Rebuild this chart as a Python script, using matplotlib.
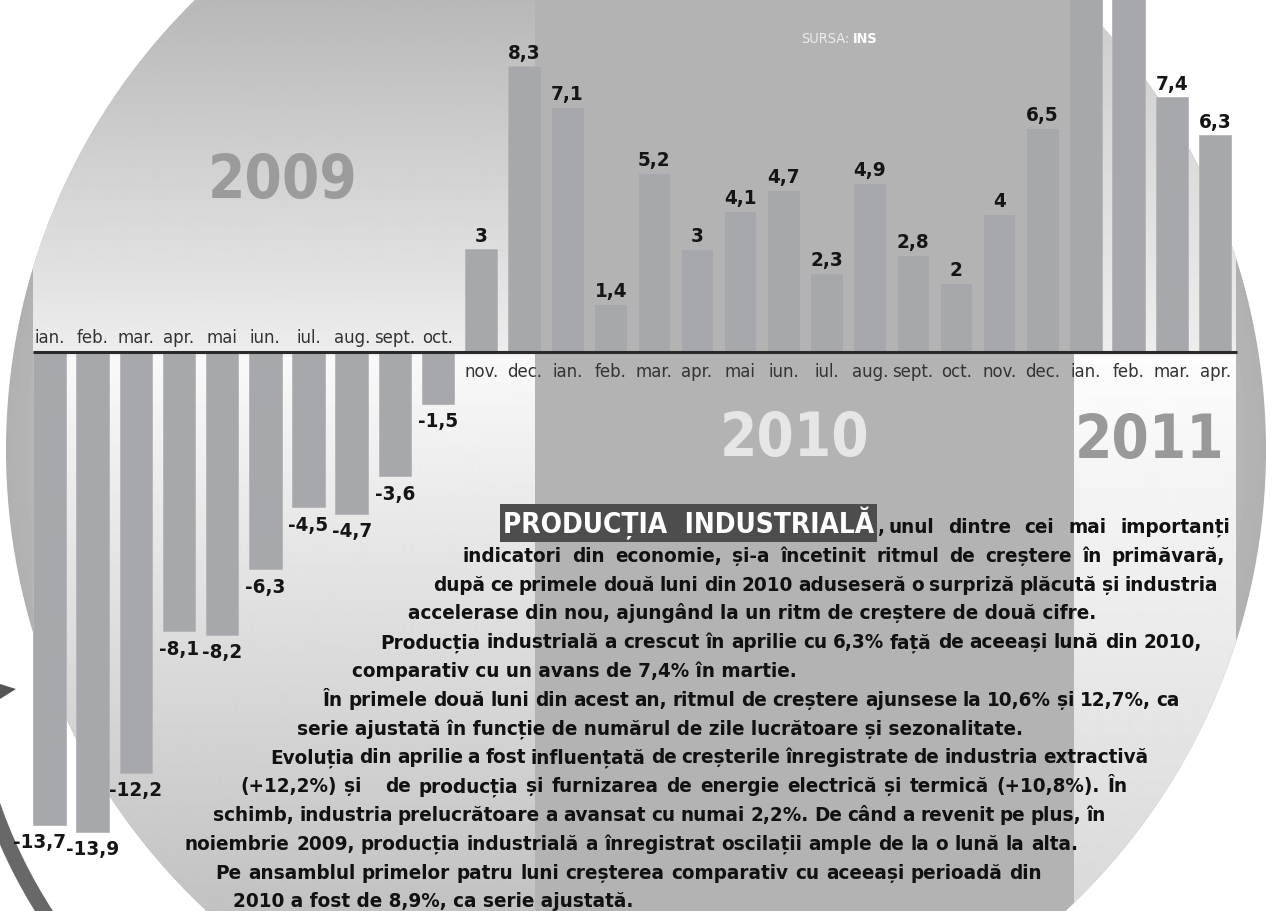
import numpy as np
import matplotlib.pyplot as plt
from matplotlib import font_manager as fm
from matplotlib.patches import Circle, Rectangle, Arc, Polygon

# pick the narrowest sans family that is installed
entries = fm.fontManager.ttflist
if any(f.name == 'Liberation Sans Narrow' for f in entries):
    FONT, STRETCH = ['Liberation Sans Narrow', 'DejaVu Sans'], 'normal'
elif any(f.name == 'DejaVu Sans' and f.stretch == 'condensed' for f in entries):
    FONT, STRETCH = ['DejaVu Sans'], 'condensed'
else:
    FONT, STRETCH = ['Liberation Sans', 'DejaVu Sans'], 'normal'

# monthly change of industrial output (%), ian. 2009 .. apr. 2011
months = ['ian.', 'feb.', 'mar.', 'apr.', 'mai', 'iun.', 'iul.', 'aug.', 'sept.', 'oct.',
          'nov.', 'dec.',
          'ian.', 'feb.', 'mar.', 'apr.', 'mai', 'iun.', 'iul.', 'aug.', 'sept.', 'oct.',
          'nov.', 'dec.',
          'ian.', 'feb.', 'mar.', 'apr.']
values = [-13.7, -13.9, -12.2, -8.1, -8.2, -6.3, -4.5, -4.7, -3.6, -1.5,
          3, 8.3,
          7.1, 1.4, 5.2, 3, 4.1, 4.7, 2.3, 4.9, 2.8, 2, 4, 6.5,
          10.6, 12.7, 7.4, 6.3]
years = ['2009', '2010', '2011']

body = [
    "indicatori din economie, și-a încetinit ritmul de creștere în primăvară,",
    "după ce primele două luni din 2010 aduseseră o surpriză plăcută și industria",
    "accelerase din nou, ajungând la un ritm de creștere de două cifre.",
    "Producția industrială a crescut în aprilie cu 6,3% față de aceeași lună din 2010,",
    "comparativ cu un avans de 7,4% în martie.",
    "În primele două luni din acest an, ritmul de creștere ajunsese la 10,6% și 12,7%, ca",
    "serie ajustată în funcție de numărul de zile lucrătoare și sezonalitate.",
    "Evoluția din aprilie a fost influențată de creșterile înregistrate de industria extractivă",
    "(+12,2%) și   de producția și furnizarea de energie electrică și termică (+10,8%). În",
    "schimb, industria prelucrătoare a avansat cu numai 2,2%. De când a revenit pe plus, în",
    "noiembrie 2009, producția industrială a înregistrat oscilații ample de la o lună la alta.",
    "Pe ansamblul primelor patru luni creșterea comparativ cu aceeași perioadă din",
    "2010 a fost de 8,9%, ca serie ajustată.",
]
body_left = [463, 433, 408, 380, 352, 323, 297, 270, 240, 213, 185, 215, 233]
body_right = [1225, 1218, None, 1202, None, 1180, None, 1148, 1128, 1106, 1078, 1042, None]

W, H = 1272, 911
fig = plt.figure(figsize=(W / 100, H / 100), dpi=100)

# ---- background shapes (pixel coordinates) ----
bg = fig.add_axes([0, 0, 1, 1])
bg.set_xlim(0, W)
bg.set_ylim(H, 0)
bg.axis('off')

cx, cy, rad = 636, 450, 630
circle = Circle((cx, cy), rad, fc='none', ec='none')
bg.add_patch(circle)

yy, xx = np.mgrid[0:H, 0:W] + 0.5
d = np.hypot(xx - cx, yy - cy) / rad
im = bg.imshow(0.96 - 0.27 * d ** 2, cmap='gray', vmin=0, vmax=1,
               extent=(0, W, H, 0), zorder=1)
im.set_clip_path(circle)


def vgrad(x0, x1, ys, vs):
    rows = np.arange(0, H) + 0.5
    v = np.interp(rows, ys, vs)
    img = bg.imshow(np.repeat(v[:, None], 2, axis=1), cmap='gray', vmin=0, vmax=1,
                    extent=(x0, x1, H, 0), aspect='auto', zorder=2,
                    interpolation='bilinear')
    img.set_clip_path(circle)


vgrad(33, 535, [0, 352, 358, 600, 911], [0.72, 0.93, 0.975, 0.88, 0.76])
vgrad(1074, 1236, [0, 352, 358, 911], [0.80, 0.93, 0.99, 0.85])
mid = Rectangle((535, 0), 539, H, fc='#b3b3b3', ec='none', zorder=2)
bg.add_patch(mid)
mid.set_clip_path(circle)

bg.add_patch(Arc((470, 640), 1010, 1010, theta1=115, theta2=175, color='#686868',
                 lw=11, zorder=3))
bg.add_patch(Polygon([[0, 684], [16, 689], [0, 699]], fc='#555555', ec='none', zorder=3))

# ---- bar chart ----
step, x0px, y0px, scale = 43.17, 49.5, 352, 34.5
ax = fig.add_axes([0, 0, 1, 1])
ax.patch.set_alpha(0)
ax.set_xlim(-x0px / step, (W - x0px) / step)
ax.set_ylim((y0px - H) / scale, y0px / scale)
ax.axis('off')

r = fig.canvas.get_renderer()
T = bg.transData


def width(t):
    return t.get_window_extent(renderer=r).width


def fit(s, target, weight='normal', base=20):
    p = ax.text(0, 0, s, transform=T, fontsize=base, weight=weight, family=FONT,
                fontstretch=STRETCH)
    w = width(p)
    p.remove()
    return base * target / w


fs_month = fit('sept.', 41)
fs_val = fit('-13,9', 53, 'bold')
fs_year = fit('2009', 150, 'bold')

idx = np.arange(len(values))
ax.bar(idx, values, width=0.753, color='#a7a8ac', edgecolor='#b4b5b8', linewidth=0.6,
       zorder=2)
ax.hlines(0, -0.38, len(values) - 0.5, color='#2a2a2a', lw=2.2, zorder=3)

lab_kw = dict(textcoords='offset points', ha='center', family=FONT, fontstretch=STRETCH)
top = ax.get_ylim()[1]
for i, (m, v) in enumerate(zip(months, values)):
    lab = ('%g' % v).replace('.', ',')
    if v > 0:
        if v < top - 0.8:
            ax.annotate(lab, (i, v), xytext=(0, 5), va='baseline', fontsize=fs_val,
                        weight='bold', color='#151515', **lab_kw)
        ax.annotate(m, (i, 0), xytext=(0, -18), va='baseline', fontsize=fs_month,
                    color='#333333', **lab_kw)
    else:
        # the first label is nudged left so it does not run into its neighbour
        dx = -7 if i == 0 else 0
        ax.annotate(lab, (i, v), xytext=(dx, -6), va='top', fontsize=fs_val,
                    weight='bold', color='#151515', **lab_kw)
        ax.annotate(m, (i, 0), xytext=(0, 6.5), va='baseline', fontsize=fs_month,
                    color='#333333', **lab_kw)

# year labels
yr_kw = dict(transform=T, ha='center', va='baseline', fontsize=fs_year, weight='bold',
             family=FONT, fontstretch=STRETCH)
ax.text(283, 198, years[0], color='#9b9b9b', **yr_kw)
ax.text(795, 456, years[1], color='#e6e6e6', **yr_kw)
ax.text(1150, 458, years[2], color='#999999', **yr_kw)

fs_src = fit('SURSA:', 48)
ax.text(849, 43, 'SURSA:', transform=T, ha='right', va='baseline', fontsize=fs_src,
        color='#ececec', family=FONT, fontstretch=STRETCH)
ax.text(853, 43, 'INS', transform=T, ha='left', va='baseline', fontsize=fs_src,
        weight='bold', color='white', family=FONT, fontstretch=STRETCH)

# ---- article text ----
fs = fit(body[2], 688, 'bold')
txt = dict(transform=T, fontsize=fs, weight='bold', color='#111111', family=FONT,
           fontstretch=STRETCH, va='baseline', ha='left', zorder=5)


def justify(line, xl, xr, y):
    words = line.split(' ')
    ts = [ax.text(xl, y, w, **txt) for w in words]
    ws = [width(t) if w else 0 for t, w in zip(ts, words)]
    gap = (xr - xl - sum(ws)) / (len(words) - 1)
    x = xl
    for t, w in zip(ts, ws):
        t.set_x(x)
        x += w + gap


bases = 533 + 28.8 * np.arange(len(body) + 1)

fs_h = fit('PRODUCȚIA  INDUSTRIALĂ', 372, 'bold')
head = ax.text(503, bases[0], 'PRODUCȚIA  INDUSTRIALĂ', transform=T, fontsize=fs_h,
               weight='bold', color='white', family=FONT, fontstretch=STRETCH,
               va='baseline', zorder=5,
               bbox=dict(boxstyle='square,pad=0.1', fc='#4d4d4d', ec='none'))
hx1 = head.get_window_extent(renderer=r).x1
ax.text(hx1 + 3, bases[0], ',', **txt)
justify('unul dintre cei mai importanți', hx1 + 14, 1230, bases[0])

for line, xl, xr, y in zip(body, body_left, body_right, bases[1:]):
    if xr is None:
        ax.text(xl, y, line, **txt)
    else:
        justify(line, xl, xr, y)

fig.savefig('out.png', dpi=100)
